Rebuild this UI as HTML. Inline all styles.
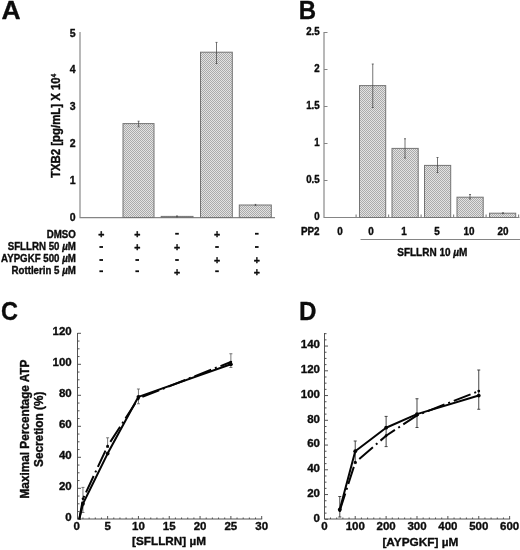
<!DOCTYPE html>
<html><head><meta charset="utf-8"><title>Figure</title>
<style>
html,body{margin:0;padding:0;background:#fff;}
body{width:520px;height:550px;overflow:hidden;}
svg{display:block;filter:grayscale(1);font-family:"Liberation Sans", sans-serif;font-weight:bold;fill:#0c0c0c;}
text{stroke:#0c0c0c;stroke-width:0.35px;stroke-linejoin:round;}
.ax{stroke:#858585;stroke-width:1.15;fill:none;}
.ax2{stroke:#4a4a4a;stroke-width:0.95;fill:none;}
.bar{fill:url(#hatch);stroke:#747474;stroke-width:1;}
.eb{stroke:#454545;stroke-width:0.75;fill:none;}
.eb2{stroke:#3c3c3c;stroke-width:0.95;fill:none;}
.eb3{stroke:#606060;stroke-width:0.85;fill:none;}
.sol{stroke:#050505;stroke-width:2;fill:none;stroke-linejoin:round;}
.dd{stroke:#050505;stroke-width:2;fill:none;stroke-dasharray:18 4 2 4;stroke-linejoin:round;}
.pl{font-size:25px;stroke-width:0.3px;}
.t9{font-size:9.7px;}
.t10{font-size:10.5px;}
.t11{font-size:11.5px;}
</style></head><body>
<svg width="520" height="550" viewBox="0 0 520 550">
<defs>
<pattern id="hatch" width="2" height="2" patternUnits="userSpaceOnUse">
<rect width="2" height="2" fill="#e2e2e2"/>
<rect x="0" y="0" width="1" height="1" fill="#aaaaaa"/>
<rect x="1" y="1" width="1" height="1" fill="#aaaaaa"/>
</pattern>
</defs>
<rect width="520" height="550" fill="#fff"/>

<!-- Panel A -->
<text class="pl" text-anchor="start" transform="translate(1.5 18.7) scale(1.06 1)">A</text>
<path class="ax" d="M80 32V217.6H275"/>
<rect class="bar" x="123" y="123.6" width="31" height="93.9"/>
<rect class="bar" x="161.2" y="216.4" width="31.80000000000001" height="1.0999999999999943"/>
<rect class="bar" x="200.5" y="52.2" width="31.80000000000001" height="165.3"/>
<rect class="bar" x="239.3" y="205" width="32.0" height="12.5"/>
<path class="eb" d="M138.6 121.2V126.8M137.6 121.2H139.6M137.6 126.8H139.6"/>
<path class="eb" d="M177 215.9V216.9M176.2 215.9H177.8M176.2 216.9H177.8"/>
<path class="eb" d="M216.5 42.4V63.5M215.5 42.4H217.5M215.5 63.5H217.5"/>
<path class="eb" d="M255.5 204.4V205.6M254.7 204.4H256.3M254.7 205.6H256.3"/>
<text x="75.5" y="36.6" class="t10" text-anchor="end">5</text>
<text x="75.5" y="73.4" class="t10" text-anchor="end">4</text>
<text x="75.5" y="110.2" class="t10" text-anchor="end">3</text>
<text x="75.5" y="147.0" class="t10" text-anchor="end">2</text>
<text x="75.5" y="183.8" class="t10" text-anchor="end">1</text>
<text x="75.5" y="220.6" class="t10" text-anchor="end">0</text>
<text class="t11" style="font-size:11.4px" text-anchor="middle" transform="translate(60.2 125.9) rotate(-90) scale(1 1.07)">TXB2 [pg/mL] X 10<tspan font-size="6.2" dy="-4.2">4</tspan></text>
<text class="t9" text-anchor="end" transform="translate(75.8 237.7) scale(1 1.05)">DMSO</text>
<text x="101.2" y="238.2" class="t10" text-anchor="middle">+</text>
<text x="137.2" y="238.2" class="t10" text-anchor="middle">+</text>
<rect x="175.2" y="232.85" width="3.6" height="1.8" fill="#0c0c0c"/>
<text x="217" y="238.2" class="t10" text-anchor="middle">+</text>
<rect x="255.0" y="232.85" width="3.6" height="1.8" fill="#0c0c0c"/>
<text class="t9" text-anchor="end" transform="translate(75.8 249.7) scale(1 1.05)">SFLLRN 50 <tspan font-style="italic">µ</tspan>M</text>
<rect x="99.4" y="246.1" width="3.6" height="1.8" fill="#0c0c0c"/>
<text x="137.2" y="251.45" class="t10" text-anchor="middle">+</text>
<text x="177" y="251.45" class="t10" text-anchor="middle">+</text>
<rect x="215.2" y="246.1" width="3.6" height="1.8" fill="#0c0c0c"/>
<rect x="255.0" y="246.1" width="3.6" height="1.8" fill="#0c0c0c"/>
<text class="t9" text-anchor="end" transform="translate(75.8 262.2) scale(1 1.05)">AYPGKF 500 <tspan font-style="italic">µ</tspan>M</text>
<rect x="99.4" y="259.1" width="3.6" height="1.8" fill="#0c0c0c"/>
<rect x="135.4" y="259.1" width="3.6" height="1.8" fill="#0c0c0c"/>
<rect x="175.2" y="259.1" width="3.6" height="1.8" fill="#0c0c0c"/>
<text x="217" y="264.45" class="t10" text-anchor="middle">+</text>
<text x="256.8" y="264.45" class="t10" text-anchor="middle">+</text>
<text class="t9" text-anchor="end" transform="translate(75.8 273.7) scale(1 1.05)">Rottlerin 5 <tspan font-style="italic">µ</tspan>M</text>
<rect x="99.4" y="270.35" width="3.6" height="1.8" fill="#0c0c0c"/>
<rect x="135.4" y="270.35" width="3.6" height="1.8" fill="#0c0c0c"/>
<text x="177" y="275.7" class="t10" text-anchor="middle">+</text>
<rect x="215.2" y="270.35" width="3.6" height="1.8" fill="#0c0c0c"/>
<text x="256.8" y="275.7" class="t10" text-anchor="middle">+</text>
<!-- Panel B -->
<text class="pl" text-anchor="start" transform="translate(298.8 18.7) scale(0.96 1)">B</text>
<path class="ax" d="M324 32V217.5H519.5M324 32.5h3.5M324 69.5h3.5M324 106.5h3.5M324 143.5h3.5M324 180.5h3.5M324 217.5h3.5M356.1 217.5v-3M388.6 217.5v-3M421.1 217.5v-3M453.6 217.5v-3M486.1 217.5v-3M518.6 217.5v-3"/>
<rect class="bar" x="359.5" y="85.6" width="26.19999999999999" height="131.9"/>
<rect class="bar" x="392" y="148.4" width="26.19999999999999" height="69.1"/>
<rect class="bar" x="424.5" y="165.4" width="26.19999999999999" height="52.099999999999994"/>
<rect class="bar" x="457" y="197.2" width="26.19999999999999" height="20.30000000000001"/>
<rect class="bar" x="489.5" y="213.2" width="26.200000000000045" height="4.300000000000011"/>
<path class="eb" d="M372.75 64V107.5M371.75 64H373.75M371.75 107.5H373.75"/>
<path class="eb" d="M405 138.75V158M404 138.75H406M404 158H406"/>
<path class="eb" d="M437.5 157.5V172.5M436.5 157.5H438.5M436.5 172.5H438.5"/>
<path class="eb" d="M470 194.5V199M469 194.5H471M469 199H471"/>
<path class="eb" d="M503 212.7V213.7M502.2 212.7H503.8M502.2 213.7H503.8"/>
<text class="t9" text-anchor="end" transform="translate(319.6 35.4) scale(1.0 1.08)">2.5</text>
<text class="t9" text-anchor="end" transform="translate(319.6 72.4) scale(1.0 1.08)">2</text>
<text class="t9" text-anchor="end" transform="translate(319.6 109.4) scale(1.0 1.08)">1.5</text>
<text class="t9" text-anchor="end" transform="translate(319.6 146.4) scale(1.0 1.08)">1</text>
<text class="t9" text-anchor="end" transform="translate(319.6 183.4) scale(1.0 1.08)">0.5</text>
<text class="t9" text-anchor="end" transform="translate(319.6 220.4) scale(1.0 1.08)">0</text>
<text class="t9" text-anchor="end" transform="translate(319.6 235.4) scale(1.02 1.04)">PP2</text>
<text class="t9" text-anchor="middle" transform="translate(340 235.4) scale(1.02 1.04)">0</text>
<text class="t9" text-anchor="middle" transform="translate(371 235.4) scale(1.02 1.04)">0</text>
<text class="t9" text-anchor="middle" transform="translate(404 235.4) scale(1.02 1.04)">1</text>
<text class="t9" text-anchor="middle" transform="translate(437 235.4) scale(1.02 1.04)">5</text>
<text class="t9" text-anchor="middle" transform="translate(469 235.4) scale(1.02 1.04)">10</text>
<text class="t9" text-anchor="middle" transform="translate(503 235.4) scale(1.02 1.04)">20</text>
<path class="ax" d="M360.5 239.5H520"/>
<text class="t9" text-anchor="middle" transform="translate(432.3 255.5) scale(1.03 1.04)">SFLLRN 10 <tspan font-style="italic">µ</tspan>M</text>
<!-- Panel C -->
<text class="pl" text-anchor="start" transform="translate(1.1 319.8) scale(0.94 1)">C</text>
<path class="ax2" d="M77.5 333V519H262.19M77.5 519.3h3.5M77.5 511.55h2M77.5 503.8h2M77.5 496.05h2M77.5 488.3h3.5M77.5 480.55h2M77.5 472.8h2M77.5 465.05h2M77.5 457.3h3.5M77.5 449.55h2M77.5 441.8h2M77.5 434.05h2M77.5 426.3h3.5M77.5 418.55h2M77.5 410.8h2M77.5 403.05h2M77.5 395.3h3.5M77.5 387.55h2M77.5 379.8h2M77.5 372.05h2M77.5 364.3h3.5M77.5 356.55h2M77.5 348.8h2M77.5 341.05h2M77.5 333.3h3.5M82.96 519v-1.5M89.13 519v-1.5M95.29 519v-1.5M101.45 519v-1.5M107.61 519v-3M113.78 519v-1.5M119.94 519v-1.5M126.1 519v-1.5M132.27 519v-1.5M138.43 519v-3M144.59 519v-1.5M150.76 519v-1.5M156.92 519v-1.5M163.08 519v-1.5M169.25 519v-3M175.41 519v-1.5M181.57 519v-1.5M187.73 519v-1.5M193.9 519v-1.5M200.06 519v-3M206.22 519v-1.5M212.39 519v-1.5M218.55 519v-1.5M224.71 519v-1.5M230.88 519v-3M237.04 519v-1.5M243.2 519v-1.5M249.36 519v-1.5M255.53 519v-1.5M261.69 519v-3"/>
<text x="71.75" y="521.4" class="t11" text-anchor="end">0</text>
<text x="71.75" y="490.4" class="t11" text-anchor="end">20</text>
<text x="71.75" y="459.4" class="t11" text-anchor="end">40</text>
<text x="71.75" y="428.4" class="t11" text-anchor="end">60</text>
<text x="71.75" y="397.4" class="t11" text-anchor="end">80</text>
<text x="71.75" y="366.4" class="t11" text-anchor="end">100</text>
<text x="71.75" y="335.4" class="t11" text-anchor="end">120</text>
<text x="76.8" y="530.1" class="t11" text-anchor="middle">0</text>
<text x="107.61" y="530.1" class="t11" text-anchor="middle">5</text>
<text x="138.43" y="530.1" class="t11" text-anchor="middle">10</text>
<text x="169.25" y="530.1" class="t11" text-anchor="middle">15</text>
<text x="200.06" y="530.1" class="t11" text-anchor="middle">20</text>
<text x="230.88" y="530.1" class="t11" text-anchor="middle">25</text>
<text x="261.69" y="530.1" class="t11" text-anchor="middle">30</text>
<text class="t11" text-anchor="middle" transform="translate(169 544.9) scale(1.02 1)">[SFLLRN] µM</text>
<text class="t11" style="font-size:11.8px" text-anchor="middle" transform="translate(29.2 429) rotate(-90) scale(1 1.1)">Maximal Percentage ATP</text>
<text class="t11" style="font-size:11.8px" text-anchor="middle" transform="translate(43 429.3) rotate(-90) scale(1 1.1)">Secretion (%)</text>
<path class="eb3" d="M82.96 487.4V512.5M81.46 487.4H84.46M81.46 512.5H84.46"/>
<path class="eb3" d="M107.61 437.8V447.5M106.11 437.8H109.11M106.11 447.5H109.11"/>
<path class="eb3" d="M138.43 389V403.75M136.93 389H139.93M136.93 403.75H139.93"/>
<path class="eb3" d="M230.88 353.75V367.5M229.38 353.75H232.38M229.38 367.5H232.38"/>
<path class="dd" d="M79.27 519.3 L82.96 498.84 L107.61 446.14 L138.43 398.4 L230.88 361.97"/>
<path class="sol" d="M79.27 519.3 L82.96 503.8 L107.61 453.58 L138.43 396.85 L230.88 364.3"/>
<circle cx="82.96" cy="503.8" r="1.9" fill="#050505"/>
<circle cx="107.61" cy="453.58" r="1.9" fill="#050505"/>
<circle cx="138.43" cy="396.85" r="1.9" fill="#050505"/>
<circle cx="230.88" cy="364.3" r="1.9" fill="#050505"/>
<circle cx="82.96" cy="498.84" r="1.3" fill="#050505"/>
<circle cx="107.61" cy="446.14" r="1.3" fill="#050505"/>
<circle cx="138.43" cy="398.4" r="1.3" fill="#050505"/>
<circle cx="230.88" cy="361.97" r="1.3" fill="#050505"/>
<!-- Panel D -->
<text class="pl" text-anchor="start" transform="translate(299 319.8) scale(0.97 1)">D</text>
<path class="ax2" d="M324.5 333V519H510.13M324.5 519.3h3.5M324.5 513.11h2M324.5 506.92h2M324.5 500.74h2M324.5 494.55h3.5M324.5 488.36h2M324.5 482.17h2M324.5 475.99h2M324.5 469.8h3.5M324.5 463.61h2M324.5 457.42h2M324.5 451.24h2M324.5 445.05h3.5M324.5 438.86h2M324.5 432.67h2M324.5 426.49h2M324.5 420.3h3.5M324.5 414.11h2M324.5 407.92h2M324.5 401.74h2M324.5 395.55h3.5M324.5 389.36h2M324.5 383.17h2M324.5 376.99h2M324.5 370.8h3.5M324.5 364.61h2M324.5 358.42h2M324.5 352.24h2M324.5 346.05h3.5M324.5 339.86h2M324.5 333.67h2M330.53 519v-1.5M336.7 519v-1.5M342.88 519v-1.5M349.05 519v-1.5M355.23 519v-3M361.41 519v-1.5M367.58 519v-1.5M373.76 519v-1.5M379.93 519v-1.5M386.11 519v-3M392.29 519v-1.5M398.46 519v-1.5M404.64 519v-1.5M410.81 519v-1.5M416.99 519v-3M423.17 519v-1.5M429.34 519v-1.5M435.52 519v-1.5M441.69 519v-1.5M447.87 519v-3M454.05 519v-1.5M460.22 519v-1.5M466.4 519v-1.5M472.57 519v-1.5M478.75 519v-3M484.93 519v-1.5M491.1 519v-1.5M497.28 519v-1.5M503.45 519v-1.5M509.63 519v-3"/>
<text x="320" y="521.6" class="t11" text-anchor="end">0</text>
<text x="320" y="496.9" class="t11" text-anchor="end">20</text>
<text x="320" y="472.1" class="t11" text-anchor="end">40</text>
<text x="320" y="447.4" class="t11" text-anchor="end">60</text>
<text x="320" y="422.6" class="t11" text-anchor="end">80</text>
<text x="320" y="397.9" class="t11" text-anchor="end">100</text>
<text x="320" y="373.1" class="t11" text-anchor="end">120</text>
<text x="320" y="348.4" class="t11" text-anchor="end">140</text>
<text x="324.35" y="530.1" class="t11" text-anchor="middle">0</text>
<text x="355.23" y="530.1" class="t11" text-anchor="middle">100</text>
<text x="386.11" y="530.1" class="t11" text-anchor="middle">200</text>
<text x="416.99" y="530.1" class="t11" text-anchor="middle">300</text>
<text x="447.87" y="530.1" class="t11" text-anchor="middle">400</text>
<text x="478.75" y="530.1" class="t11" text-anchor="middle">500</text>
<text x="509.63" y="530.1" class="t11" text-anchor="middle">600</text>
<text class="t11" text-anchor="middle" transform="translate(420.4 546.4) scale(1.03 1)">[AYPGKF] µM</text>
<path class="eb2" d="M339.79 496.5V517M338.29 496.5H341.29M338.29 517H341.29"/>
<path class="eb2" d="M355.23 441V463.6M353.73 441H356.73M353.73 463.6H356.73"/>
<path class="eb2" d="M386.11 416.4V446.6M384.61 416.4H387.61M384.61 446.6H387.61"/>
<path class="eb2" d="M416.99 398.75V427.5M415.49 398.75H418.49M415.49 427.5H418.49"/>
<path class="eb2" d="M478.75 370V409.25M477.25 370H480.25M477.25 409.25H480.25"/>
<path class="dd" d="M339.79 510.64 L355.23 462.37 L386.11 435.77 L416.99 415.35 L478.75 391.09"/>
<path class="sol" d="M339.79 509.4 L355.23 451.24 L386.11 427.72 L416.99 414.11 L478.75 395.55"/>
<circle cx="339.79" cy="509.4" r="1.9" fill="#050505"/>
<circle cx="355.23" cy="451.24" r="1.9" fill="#050505"/>
<circle cx="386.11" cy="427.72" r="1.9" fill="#050505"/>
<circle cx="416.99" cy="414.11" r="1.9" fill="#050505"/>
<circle cx="478.75" cy="395.55" r="1.9" fill="#050505"/>
<circle cx="339.79" cy="510.64" r="1.4" fill="#050505"/>
<circle cx="355.23" cy="462.37" r="1.4" fill="#050505"/>
<circle cx="386.11" cy="435.77" r="1.4" fill="#050505"/>
<circle cx="416.99" cy="415.35" r="1.4" fill="#050505"/>
<circle cx="478.75" cy="391.09" r="1.4" fill="#050505"/>
</svg></body></html>
